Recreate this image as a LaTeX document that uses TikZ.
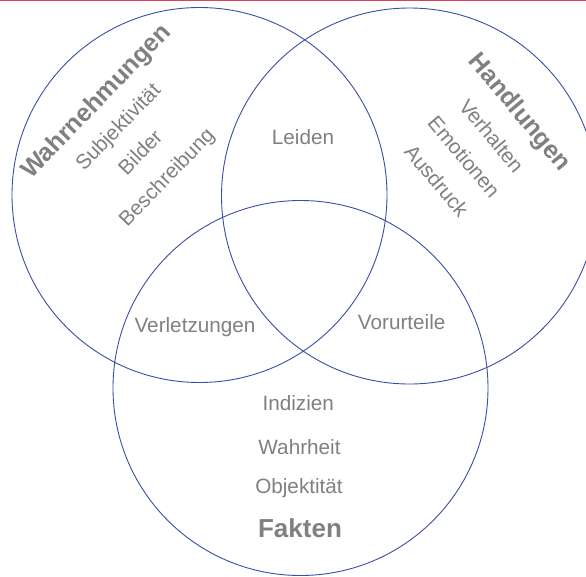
\documentclass[tikz,border=0pt]{standalone}
\usepackage{fontspec}
\setmainfont{Liberation Sans}
\definecolor{circ}{RGB}{58,78,165}
\definecolor{txt}{RGB}{128,128,128}
\definecolor{topline}{RGB}{224,64,96}
\begin{document}
\begin{tikzpicture}[x=1pt,y=-1pt,
  ring/.style={draw=circ,line width=0.9pt},
  lbl/.style={text=txt,inner sep=0pt,font=\fontsize{20.7}{24}\selectfont},
  head/.style={text=txt,inner sep=0pt,font=\fontsize{25}{30}\selectfont\bfseries},
  bighead/.style={text=txt,inner sep=0pt,font=\fontsize{26}{31}\selectfont\bfseries},
]
\useasboundingbox (0,0) rectangle (586,576);
\fill[white] (0,0) rectangle (586,576);
\fill[topline] (0,0) rectangle (586,1.3);
% circles
\node[ring,circle,minimum size=375pt,inner sep=0pt] (cw) at (199.5,195) {};
\node[ring,circle,minimum size=376pt,inner sep=0pt] (ch) at (409.5,196) {};
\node[ring,circle,minimum size=375pt,inner sep=0pt] (cf) at (300.5,388) {};
% Wahrnehmungen group
\node[head,rotate=46] (wahr) at (97,102) {Wahrnehmungen};
\node[lbl,rotate=46] (subj) at (119,128) {Subjektivität};
\node[lbl,rotate=46] (bild) at (140,152) {Bilder};
\node[lbl,rotate=46] (besch) at (167.5,178) {Beschreibung};
% Handlungen group
\node[head,rotate=-50] (hand) at (519,113) {Handlungen};
\node[lbl,rotate=-50] (verh) at (491.7,135.8) {Verhalten};
\node[lbl,rotate=-50] (emo) at (464.2,156.7) {Emotionen};
\node[lbl,rotate=-50] (ausd) at (436.7,180.8) {Ausdruck};
% intersections
\node[lbl,anchor=base] (leid) at (303,144.3) {Leiden};
\node[lbl,anchor=base] (verl) at (195,332.7) {Verletzungen};
\node[lbl,anchor=base] (voru) at (401.7,329.3) {Vorurteile};
% Fakten group
\node[lbl,anchor=base] (indi) at (298.3,410.7) {Indizien};
\node[lbl,anchor=base] (wahrh) at (299.5,454) {Wahrheit};
\node[lbl,anchor=base] (objk) at (299,493.3) {Objektität};
\node[bighead,anchor=base] (fakt) at (300,537) {Fakten};
\end{tikzpicture}
\end{document}
